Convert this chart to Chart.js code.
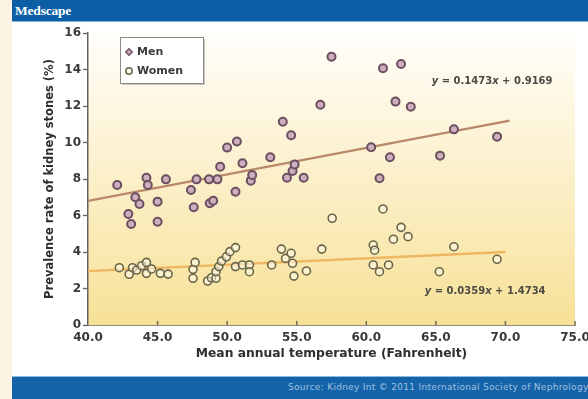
<!DOCTYPE html>
<html>
<head>
<meta charset="utf-8">
<script src="https://cdn.jsdelivr.net/npm/chart.js@4.4.1/dist/chart.umd.min.js"></script>
<style>
  html, body { margin: 0; padding: 0; }
  body { width: 588px; height: 399px; position: relative; overflow: hidden; background: #fcf3e4; font-family: "DejaVu Sans", sans-serif; }
  #panel { position: absolute; left: 12px; top: 22px; width: 576px; height: 354px; background: #ffffff; }
  #header { position: absolute; left: 12px; top: 0; width: 576px; height: 22px; background: #0c5fa4; border-bottom: 1px solid #7fb0d9; box-sizing: border-box; }
  #header span { position: absolute; left: 3px; top: 3px; color: #ffffff; font-family: "Liberation Serif", serif; font-weight: bold; font-size: 13.5px; letter-spacing: -0.2px; }
  #footer { position: absolute; left: 12px; top: 376px; width: 576px; height: 23px; background: #1563a8; border-top: 1px solid #8dbbe0; box-sizing: border-box; overflow: hidden; }
  #footer span { position: absolute; left: 276px; top: 5px; white-space: nowrap; color: #9fc1e0; font-size: 9px; letter-spacing: 0.3px; }
  canvas { position: absolute; left: 0; top: 0; }
</style>
</head>
<body>
<div id="panel"></div>
<div id="header"><span>Medscape</span></div>
<div id="footer"><span>Source: Kidney Int © 2011 International Society of Nephrology</span></div>
<canvas id="c" width="588" height="399"></canvas>
<script>
// ---- data ----
const menTemp  = [42.1, 42.9, 43.1, 43.4, 43.7, 44.2, 44.3, 45.0, 45.0, 45.6, 47.4, 47.6, 47.8, 48.7, 48.75, 49.0, 49.3, 49.5, 50.0, 50.6, 50.7, 51.1, 51.7, 51.8, 53.1, 54.0, 54.3, 54.6, 54.7, 54.85, 55.5, 56.7, 57.5, 60.35, 60.95, 61.2, 61.7, 62.1, 62.5, 63.2, 65.3, 66.3, 69.4];
const menRate  = [7.67, 6.08, 5.53, 7.0, 6.63, 8.07, 7.67, 6.76, 5.66, 7.98, 7.4, 6.45, 7.98, 7.98, 6.67, 6.81, 7.98, 8.67, 9.72, 7.3, 10.05, 8.86, 7.91, 8.22, 9.19, 11.14, 8.07, 10.4, 8.44, 8.8, 8.07, 12.07, 14.7, 9.74, 8.04, 14.07, 9.19, 12.24, 14.3, 11.96, 9.28, 10.72, 10.32];
const womenTemp = [42.25, 42.96, 43.2, 43.5, 43.85, 44.2, 44.2, 44.57, 45.2, 45.76, 47.55, 47.55, 47.7, 48.6, 48.87, 49.2, 49.2, 49.4, 49.6, 49.95, 50.2, 50.6, 50.6, 51.1, 51.6, 51.6, 53.2, 53.9, 54.2, 54.6, 54.7, 54.8, 55.7, 56.8, 57.55, 60.5, 60.6, 60.5, 60.95, 61.6, 61.2, 61.95, 62.5, 63.0, 65.25, 66.3, 69.4];
const womenRate = [3.14, 2.78, 3.14, 3.01, 3.25, 3.43, 2.83, 3.07, 2.83, 2.79, 2.56, 3.05, 3.43, 2.41, 2.59, 2.56, 2.92, 3.2, 3.5, 3.74, 4.02, 4.24, 3.2, 3.29, 3.29, 2.92, 3.29, 4.16, 3.65, 3.93, 3.38, 2.68, 2.96, 4.16, 5.85, 4.38, 4.1, 3.29, 2.92, 3.29, 6.36, 4.7, 5.35, 4.84, 2.92, 4.29, 3.6];
// trend-line end points
const menTrendX = [40, 70.3];
const menTrendY = [6.8, 11.2];
const womenTrendX = [40, 70];
const womenTrendY = [2.95, 4.0];
// equation labels
const menEquation = ['y', ' = 0.1473', 'x', ' + 0.9169'];
const womenEquation = ['y', ' = 0.0359', 'x', ' + 1.4734'];
const seriesNames = ['Men', 'Women'];
const xTickValues = [40, 45, 50, 55, 60, 65, 70, 75];
const yTickValues = [0, 2, 4, 6, 8, 10, 12, 14, 16];

const toPts = (xs, ys) => xs.map((x, i) => ({ x: x, y: ys[i] }));

const FONT = '"DejaVu Sans", sans-serif';

const bgPlugin = {
  id: 'bgGrad',
  beforeDraw(chart) {
    const { ctx, chartArea: a } = chart;
    const g = ctx.createLinearGradient(0, a.top, 0, a.bottom);
    g.addColorStop(0, '#fffefa');
    g.addColorStop(0.35, '#fdf4d8');
    g.addColorStop(1, '#f7e197');
    ctx.save();
    ctx.fillStyle = g;
    ctx.fillRect(a.left, a.top, a.right - a.left, a.bottom - a.top);
    ctx.restore();
  }
};

const xTickPlugin = {
  id: 'xInTicks',
  afterDatasetsDraw(chart) {
    const { ctx, scales: { x }, chartArea: a } = chart;
    ctx.save();
    ctx.strokeStyle = '#6d6a55';
    ctx.lineWidth = 1.5;
    x.ticks.forEach(t => {
      const px = x.getPixelForValue(t.value);
      if (px <= a.left + 1) return;
      ctx.beginPath();
      ctx.moveTo(px, a.bottom);
      ctx.lineTo(px, a.bottom - 4);
      ctx.stroke();
    });
    ctx.restore();
  }
};

function drawEquation(ctx, parts, px, py) {
  let cx = px;
  ctx.textBaseline = 'middle';
  parts.forEach((p, i) => {
    const italic = (i % 2 === 0);
    ctx.font = (italic ? 'italic ' : '') + 'bold 10px ' + FONT;
    ctx.fillText(p, cx, py);
    cx += ctx.measureText(p).width;
  });
}

const eqPlugin = {
  id: 'equations',
  afterDatasetsDraw(chart, args, opts) {
    const { ctx, scales: { x, y } } = chart;
    ctx.save();
    ctx.fillStyle = '#4d4a44';
    opts.items.forEach(it => {
      drawEquation(ctx, it.parts, x.getPixelForValue(it.at[0]), y.getPixelForValue(it.at[1]));
    });
    ctx.restore();
  }
};

const legendPlugin = {
  id: 'boxLegend',
  afterDraw(chart, args, opts) {
    const { ctx } = chart;
    const { left, top, width, height } = opts;
    ctx.save();
    ctx.fillStyle = '#c9c6bf';
    ctx.fillRect(left + 2, top + 2, width, height);
    ctx.fillStyle = '#ffffff';
    ctx.fillRect(left, top, width, height);
    ctx.strokeStyle = '#8c8a86';
    ctx.lineWidth = 1;
    ctx.strokeRect(left + 0.5, top + 0.5, width, height);
    const styles = ['rectRot', 'circle'];
    chart.data.datasets.filter(d => d.inLegend).forEach((d, i) => {
      const cy = top + 15 + i * 19;
      ctx.strokeStyle = d.borderColor;
      ctx.fillStyle = d.backgroundColor;
      ctx.lineWidth = 1.5;
      Chart.helpers.drawPoint(ctx, { pointStyle: styles[i], radius: 3.2, borderWidth: 1.5 }, left + 9, cy);
      ctx.fillStyle = '#3b3a38';
      ctx.font = 'bold 11px ' + FONT;
      ctx.textBaseline = 'middle';
      ctx.fillText(d.label, left + 17, cy);
    });
    ctx.restore();
  }
};

new Chart(document.getElementById('c'), {
  type: 'scatter',
  data: {
    datasets: [
      {
        type: 'line', label: 'men trend', data: toPts(menTrendX, menTrendY),
        borderColor: '#b98769', borderWidth: 2.4, pointRadius: 0, fill: false, order: 3
      },
      {
        type: 'line', label: 'women trend', data: toPts(womenTrendX, womenTrendY),
        borderColor: '#eeb660', borderWidth: 2.4, pointRadius: 0, fill: false, order: 3
      },
      {
        label: seriesNames[0], inLegend: true, data: toPts(menTemp, menRate),
        pointStyle: 'circle', pointRadius: 4, borderWidth: 2,
        borderColor: '#6a5060', backgroundColor: '#cfaebe', order: 1
      },
      {
        label: seriesNames[1], inLegend: true, data: toPts(womenTemp, womenRate),
        pointStyle: 'circle', pointRadius: 4, borderWidth: 1.6,
        borderColor: '#6a6649', backgroundColor: 'rgba(255,251,236,0.55)', order: 2
      }
    ]
  },
  options: {
    responsive: false,
    animation: false,
    devicePixelRatio: 1,
    layout: { padding: { left: 39, top: 33, right: 13, bottom: 29 } },
    plugins: {
      legend: { display: false },
      tooltip: { enabled: false },
      equations: {
        items: [
          { parts: menEquation, at: [64.7, 13.33] },
          { parts: womenEquation, at: [64.2, 1.86] }
        ]
      },
      boxLegend: { left: 120, top: 37, width: 83, height: 46 }
    },
    scales: {
      x: {
        type: 'linear', min: 40, max: 75,
        afterBuildTicks: s => { s.ticks = xTickValues.map(v => ({ value: v })); },
        afterFit: s => { s.height = 45; s.paddingRight = 0; s.paddingLeft = 0; },
        border: { display: true, color: '#8c8a7a', width: 1 },
        grid: { display: true, drawOnChartArea: false, drawTicks: false },
        ticks: {
          padding: 6, color: '#3a3935', maxRotation: 0, autoSkip: false,
          font: { family: FONT, size: 12, weight: 'bold' },
          callback: v => Number(v).toFixed(1)
        },
        title: {
          display: true, text: 'Mean annual temperature (Fahrenheit)', color: '#2f2e2c',
          font: { family: FONT, size: 12.3, weight: 'bold' }, padding: { top: 2, bottom: 9 }
        }
      },
      y: {
        type: 'linear', min: 0, max: 16,
        afterBuildTicks: s => { s.ticks = yTickValues.map(v => ({ value: v })); },
        afterFit: s => { s.width = 49; },
        border: { display: true, color: '#66645c', width: 1.5 },
        grid: { display: true, drawOnChartArea: false, drawTicks: true, tickLength: 5, color: '#66645c', tickWidth: 1.3 },
        ticks: {
          padding: 2, color: '#3a3935',
          font: { family: FONT, size: 12, weight: 'bold' }
        },
        title: {
          display: true, text: 'Prevalence rate of kidney stones (%)', color: '#2f2e2c',
          font: { family: FONT, size: 11.5, weight: 'bold' }, padding: { top: 4, bottom: 2 }
        }
      }
    }
  },
  plugins: [bgPlugin, xTickPlugin, eqPlugin, legendPlugin]
});
</script>
</body>
</html>
